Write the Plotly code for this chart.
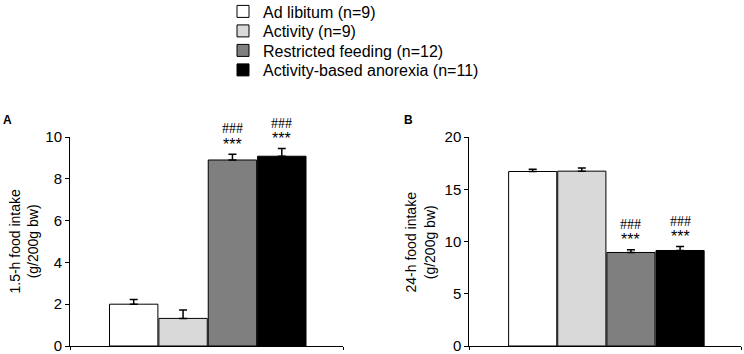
import plotly.graph_objects as go

groups = ["Ad libitum (n=9)", "Activity (n=9)", "Restricted feeding (n=12)", "Activity-based anorexia (n=11)"]
colors = ["#ffffff", "#d9d9d9", "#7f7f7f", "#000000"]

intake_1_5h = [2.0, 1.32, 8.9, 9.08]
sem_1_5h = [0.22, 0.40, 0.27, 0.37]

intake_24h = [16.7, 16.73, 8.95, 9.14]
sem_24h = [0.22, 0.30, 0.25, 0.38]

sig_hash = ["", "", "###", "###"]
sig_star = ["", "", "***", "***"]

ytitle_a = "1.5-h food intake<br>(g/200g bw)"
ytitle_b = "24-h food intake<br>(g/200g bw)"

SANS = "Liberation Sans, Arial, sans-serif"
SERIF = "Liberation Serif, Times New Roman, serif"

fig = go.Figure()

legend_names = ["legend", "legend2", "legend3", "legend4"]
for i, g in enumerate(groups):
    fig.add_trace(go.Bar(
        x=[g], y=[intake_1_5h[i]], name=g,
        marker=dict(color=colors[i], line=dict(color="#000000", width=1)),
        error_y=dict(type="data", symmetric=False, array=[sem_1_5h[i]], arrayminus=[0],
                     color="#000000", thickness=1.5, width=4),
        xaxis="x", yaxis="y", showlegend=True, legend=legend_names[i],
    ))
for i, g in enumerate(groups):
    fig.add_trace(go.Bar(
        x=[g], y=[intake_24h[i]], name=g,
        marker=dict(color=colors[i], line=dict(color="#000000", width=1)),
        error_y=dict(type="data", symmetric=False, array=[sem_24h[i]], arrayminus=[0],
                     color="#000000", thickness=1.5, width=4),
        xaxis="x2", yaxis="y2", showlegend=False,
    ))

annotations = []
for xr, vals, errs in (("x", intake_1_5h, sem_1_5h), ("x2", intake_24h, sem_24h)):
    yr = "y" if xr == "x" else "y2"
    for i, g in enumerate(groups):
        if sig_hash[i]:
            annotations.append(dict(x=g, y=vals[i] + errs[i], xref=xr, yref=yr, text=sig_hash[i],
                                    showarrow=False, yanchor="middle", yshift=25.5,
                                    font=dict(family=SERIF, size=14, color="#000")))
        if sig_star[i]:
            annotations.append(dict(x=g, y=vals[i] + errs[i], xref=xr, yref=yr, text=sig_star[i],
                                    showarrow=False, yanchor="middle", yshift=10,
                                    font=dict(family=SANS, size=16, color="#000")))

# panel letters
annotations.append(dict(x=-0.0924, y=1.081, xref="paper", yref="paper", text="<b>A</b>",
                        showarrow=False, xanchor="center", yanchor="middle",
                        font=dict(family=SANS, size=12, color="#000")))
annotations.append(dict(x=0.504, y=1.081, xref="paper", yref="paper", text="<b>B</b>",
                        showarrow=False, xanchor="center", yanchor="middle",
                        font=dict(family=SANS, size=12, color="#000")))

# y-axis titles (rotated)
annotations.append(dict(x=-0.0700, y=0.5, xref="paper", yref="paper", text=ytitle_a,
                        showarrow=False, textangle=-90, xanchor="center", yanchor="middle",
                        font=dict(family=SANS, size=14, color="#000")))
annotations.append(dict(x=0.5216, y=0.5, xref="paper", yref="paper", text=ytitle_b,
                        showarrow=False, textangle=-90, xanchor="center", yanchor="middle",
                        font=dict(family=SANS, size=14, color="#000")))

xrange = [-1.29, 4.24]
xaxis_common = dict(type="category", range=xrange, showline=True, linecolor="#000", linewidth=1,
                    showgrid=False, zeroline=False, showticklabels=False,
                    tickmode="array", tickvals=[xrange[0], xrange[1]], ticks="outside",
                    ticklen=3, tickcolor="#000")
yaxis_common = dict(showline=True, linecolor="#000", linewidth=1, showgrid=False, zeroline=False,
                    ticks="outside", ticklen=4, tickcolor="#000", ticklabeloverflow="allow",
                    automargin=False,
                    tickfont=dict(family=SANS, size=15, color="#000"))

legend_rows = [11.5, 31.0, 50.5, 70.0]
legend_layout = {}
for name, c in zip(legend_names, legend_rows):
    legend_layout[name] = dict(x=223 / 744, xref="container", xanchor="left",
                               y=1 - c / 354, yref="container", yanchor="middle",
                               bgcolor="rgba(0,0,0,0)", borderwidth=0,
                               font=dict(family=SANS, size=16, color="#000"))

fig.update_layout(
    width=744, height=354,
    margin=dict(l=70, r=3, t=137, b=8, autoexpand=False),
    paper_bgcolor="#fff", plot_bgcolor="#fff",
    barmode="relative", bargap=0.02,
    xaxis=dict(domain=[0, 0.4069], **xaxis_common),
    xaxis2=dict(domain=[0.5951, 1.0], anchor="y2", **xaxis_common),
    yaxis=dict(range=[0, 10], dtick=2, anchor="x", **yaxis_common),
    yaxis2=dict(range=[0, 20], dtick=5, anchor="x2", **yaxis_common),
    annotations=annotations,
    **legend_layout,
)

fig.write_html("out.html", config={"displayModeBar": False},
               post_script="document.body.style.margin='0';document.body.style.overflow='hidden';")
